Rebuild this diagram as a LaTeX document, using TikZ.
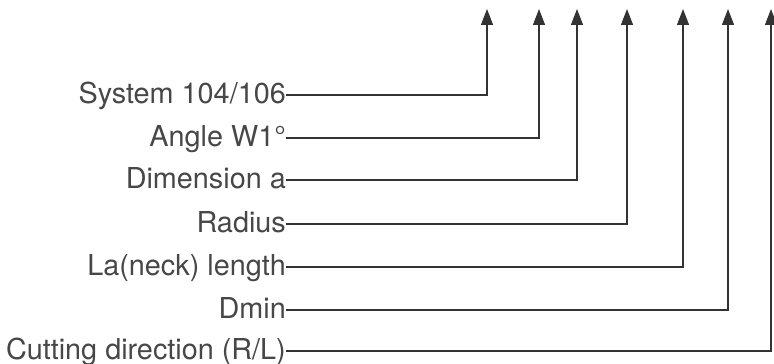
\documentclass[tikz,border=0pt]{standalone}
\usepackage{fontspec}
\setmainfont{TeX Gyre Heros}
\usetikzlibrary{arrows.meta}
\definecolor{ink}{HTML}{333333}
\definecolor{txt}{HTML}{474747}
\tikzset{
  lbl/.style={anchor=east, inner sep=0pt, text height=17pt, text depth=0pt,
    font=\fontsize{28.8pt}{30pt}\selectfont, text=txt},
  lead/.style={draw=ink, line width=1.3pt,
    -{Triangle[length=16pt,width=12pt]}}
}
\begin{document}
\begin{tikzpicture}[x=1pt,y=1pt]
\useasboundingbox (0,0) rectangle (774,364);
\node[lbl] (l1) at (286,364-95) {System 104/106};
\node[lbl] (l2) at (286,364-138) {Angle W1°};
\node[lbl] (l3) at (286,364-180) {Dimension a};
\node[lbl] (l4) at (286,364-224) {Radius};
\node[lbl] (l5) at (286,364-267) {La(neck) length};
\node[lbl] (l6) at (286,364-310) {Dmin};
\node[lbl] (l7) at (286,364-351) {Cutting direction (R/L)};
\coordinate (t1) at (487,364-9);
\coordinate (t2) at (539,364-9);
\coordinate (t3) at (577,364-9);
\coordinate (t4) at (627,364-9);
\coordinate (t5) at (683,364-9);
\coordinate (t6) at (728,364-9);
\coordinate (t7) at (771,364-9);
\foreach \i in {1,...,7}{
  \draw[lead] (l\i.east) -| (t\i);
}
\end{tikzpicture}
\end{document}
